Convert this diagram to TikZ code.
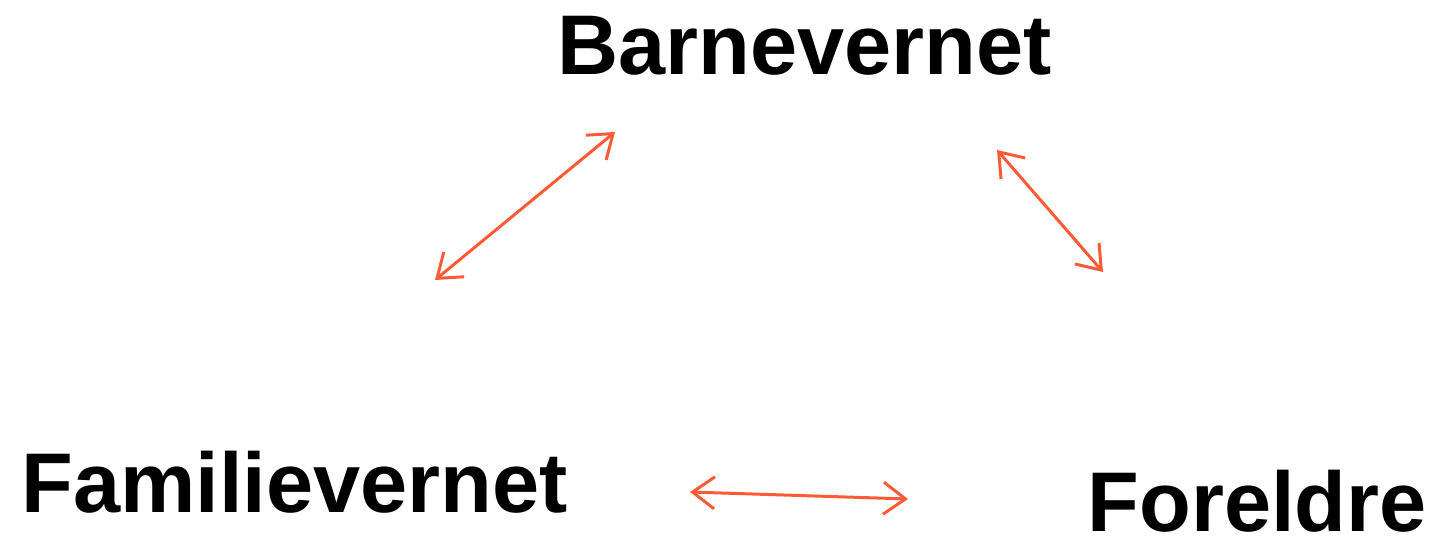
\documentclass[tikz,border=0pt]{standalone}
\usepackage{fontspec}
\setmainfont{Liberation Sans}
\usetikzlibrary{arrows.meta}
\definecolor{pilrod}{HTML}{FF5A36}

\begin{document}
\begin{tikzpicture}[
  etikett/.style = {anchor=base west, inner sep=0pt, font=\fontsize{24.1}{28}\selectfont\bfseries},
  pil/.style = {draw=pilrod, line width=0.85pt, {Straight Barb[length=2.2mm, width=3.2mm]}-{Straight Barb[length=2.2mm, width=3.2mm]}}
]
\useasboundingbox (0,0) rectangle (14.35,5.43);
\node [etikett] (barn) at (5.57,4.68) {Barnevernet};
\node [etikett] (fam) at (0.21,0.30) {Familievernet};
\node [etikett] (for) at (10.87,0.11) {Foreldre};
\coordinate (b1) at (6.15,4.11);
\coordinate (f1) at (4.35,2.63);
\coordinate (b2) at (9.97,3.93);
\coordinate (r1) at (11.03,2.71);
\coordinate (f2) at (6.90,0.51);
\coordinate (r2) at (9.08,0.44);
\draw [pil] (f1) -- (b1);
\draw [pil] (b2) -- (r1);
\draw [pil] (f2) -- (r2);
\end{tikzpicture}
\end{document}
